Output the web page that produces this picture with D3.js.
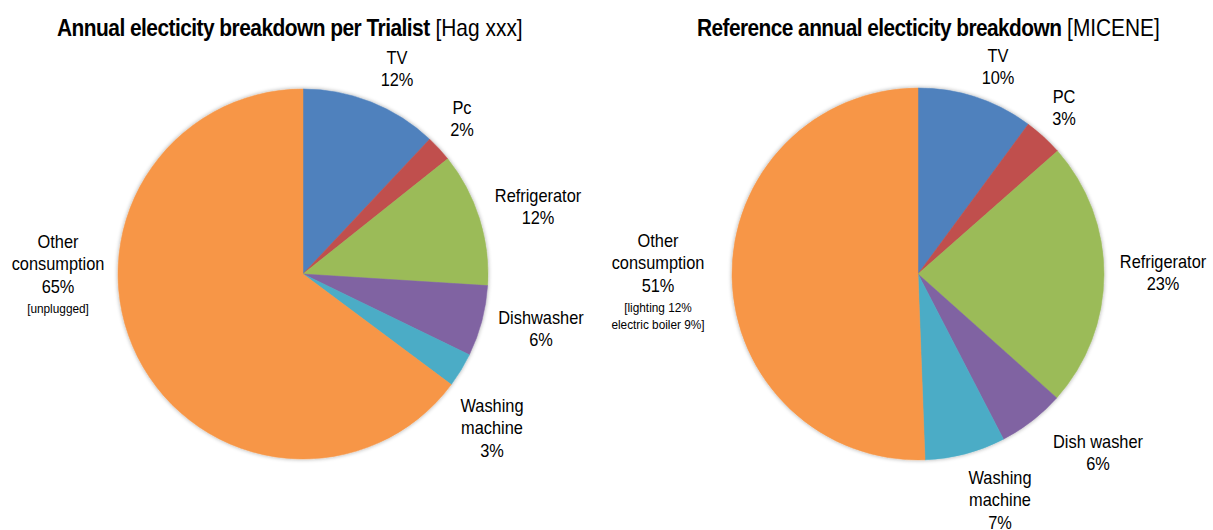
<!DOCTYPE html>
<html><head><meta charset="utf-8">
<script src="https://cdn.jsdelivr.net/npm/d3@7"></script>
<style>
html,body{margin:0;padding:0;background:#fff;}
svg{display:block;}
text{font-family:"Liberation Sans",Arial,sans-serif;fill:#000;}
</style></head>
<body>
<svg id="chart" width="1213" height="530"></svg>
<script>
// ---- data ----
const categoriesLeft = ["TV", "Pc", "Refrigerator", "Dishwasher", "Washing machine", "Other consumption"];
const valuesLeft = [12, 2.3, 11.7, 6.2, 3.0, 64.8];
const notesLeft = ["", "", "", "", "", "[unplugged]"];

const categoriesRight = ["TV", "PC", "Refrigerator", "Dish washer", "Washing machine", "Other consumption"];
const valuesRight = [10.1, 3.4, 23.1, 5.8, 7.0, 50.6];
const notesRight = ["", "", "", "", "", "[lighting 12%|electric boiler 9%]"];

const titleLeftBold = "Annual electicity breakdown per Trialist";
const titleLeftRest = " [Hag xxx]";
const titleRightBold = "Reference annual electicity breakdown";
const titleRightRest = " [MICENE]";

const colors = ["#4f81bd", "#c0504d", "#9bbb59", "#8064a2", "#4bacc6", "#f79646"];

// ---- layout ----
const layoutLeft = {
  cx: 303, cy: 274, r: 185, titleX0: 57, titleX1: 523,
  lines: {
    "TV": [397, 64, ["TV"]],
    "Pc": [462, 114, ["Pc"]],
    "Refrigerator": [538, 202, ["Refrigerator"]],
    "Dishwasher": [541, 324, ["Dishwasher"]],
    "Washing machine": [492, 412, ["Washing", "machine"]],
    "Other consumption": [58, 248, ["Other", "consumption"]]
  }
};
const layoutRight = {
  cx: 918, cy: 274, r: 186, titleX0: 697, titleX1: 1160,
  lines: {
    "TV": [998, 62, ["TV"]],
    "PC": [1064, 103, ["PC"]],
    "Refrigerator": [1163, 268, ["Refrigerator"]],
    "Dish washer": [1098, 448, ["Dish washer"]],
    "Washing machine": [1000, 484, ["Washing", "machine"]],
    "Other consumption": [658, 247, ["Other", "consumption"]]
  }
};
const SX = 0.91;

const svg = d3.select("#chart");
const defs = svg.append("defs");
const f = defs.append("filter").attr("id", "shadow").attr("x", "-10%").attr("y", "-10%").attr("width", "120%").attr("height", "120%");
f.append("feGaussianBlur").attr("in", "SourceAlpha").attr("stdDeviation", 2.2).attr("result", "b");
f.append("feComponentTransfer").attr("in", "b").attr("result", "c")
  .append("feFuncA").attr("type", "linear").attr("slope", 0.35);
const m = f.append("feMerge");
m.append("feMergeNode").attr("in", "c");
m.append("feMergeNode").attr("in", "SourceGraphic");

function narrowText(x, y, size) {
  return svg.append("g").attr("transform", `translate(${x},${y}) scale(${SX},1)`)
    .append("text").attr("text-anchor", "middle").attr("font-size", size);
}

function drawPie(cats, vals, notes, L, tBold, tRest) {
  const data = cats.map((c, i) => ({ cat: c, value: vals[i], note: notes[i], color: colors[i] }));
  const pie = d3.pie().sort(null).value(d => d.value);
  const arc = d3.arc().innerRadius(0).outerRadius(L.r);
  const g = svg.append("g").attr("transform", `translate(${L.cx},${L.cy})`);
  g.append("g").attr("filter", "url(#shadow)")
    .selectAll("path").data(pie(data)).join("path")
    .attr("d", arc).attr("fill", d => d.data.color)
    .attr("stroke", d => d.data.color).attr("stroke-width", 0.5);

  const lh = 22.5;
  data.forEach(d => {
    const [x, y0, lines] = L.lines[d.cat];
    const all = lines.concat([Math.round(d.value) + "%"]);
    const t = narrowText(x, y0, 18);
    all.forEach((s, k) => t.append("tspan").attr("x", 0).attr("y", k * lh).text(s));
    if (d.note) {
      const nl = d.note.split("|");
      const ny = y0 + (all.length - 1) * lh + 20;
      const nt = narrowText(x, ny, 13);
      nl.forEach((s, k) => nt.append("tspan").attr("x", 0).attr("y", k * 17).text(s));
    }
  });

  // title, fitted to the reference's width
  const tg = svg.append("g");
  const title = tg.append("text").attr("x", 0).attr("y", 0).attr("font-size", 23);
  title.append("tspan").attr("font-weight", "bold").attr("letter-spacing", -0.6).text(tBold);
  title.append("tspan").text(tRest);
  const w = title.node().getComputedTextLength();
  const s = (L.titleX1 - L.titleX0) / w;
  tg.attr("transform", `translate(${L.titleX0},36) scale(${s},1)`);
}

drawPie(categoriesLeft, valuesLeft, notesLeft, layoutLeft, titleLeftBold, titleLeftRest);
drawPie(categoriesRight, valuesRight, notesRight, layoutRight, titleRightBold, titleRightRest);
</script>
</body></html>
